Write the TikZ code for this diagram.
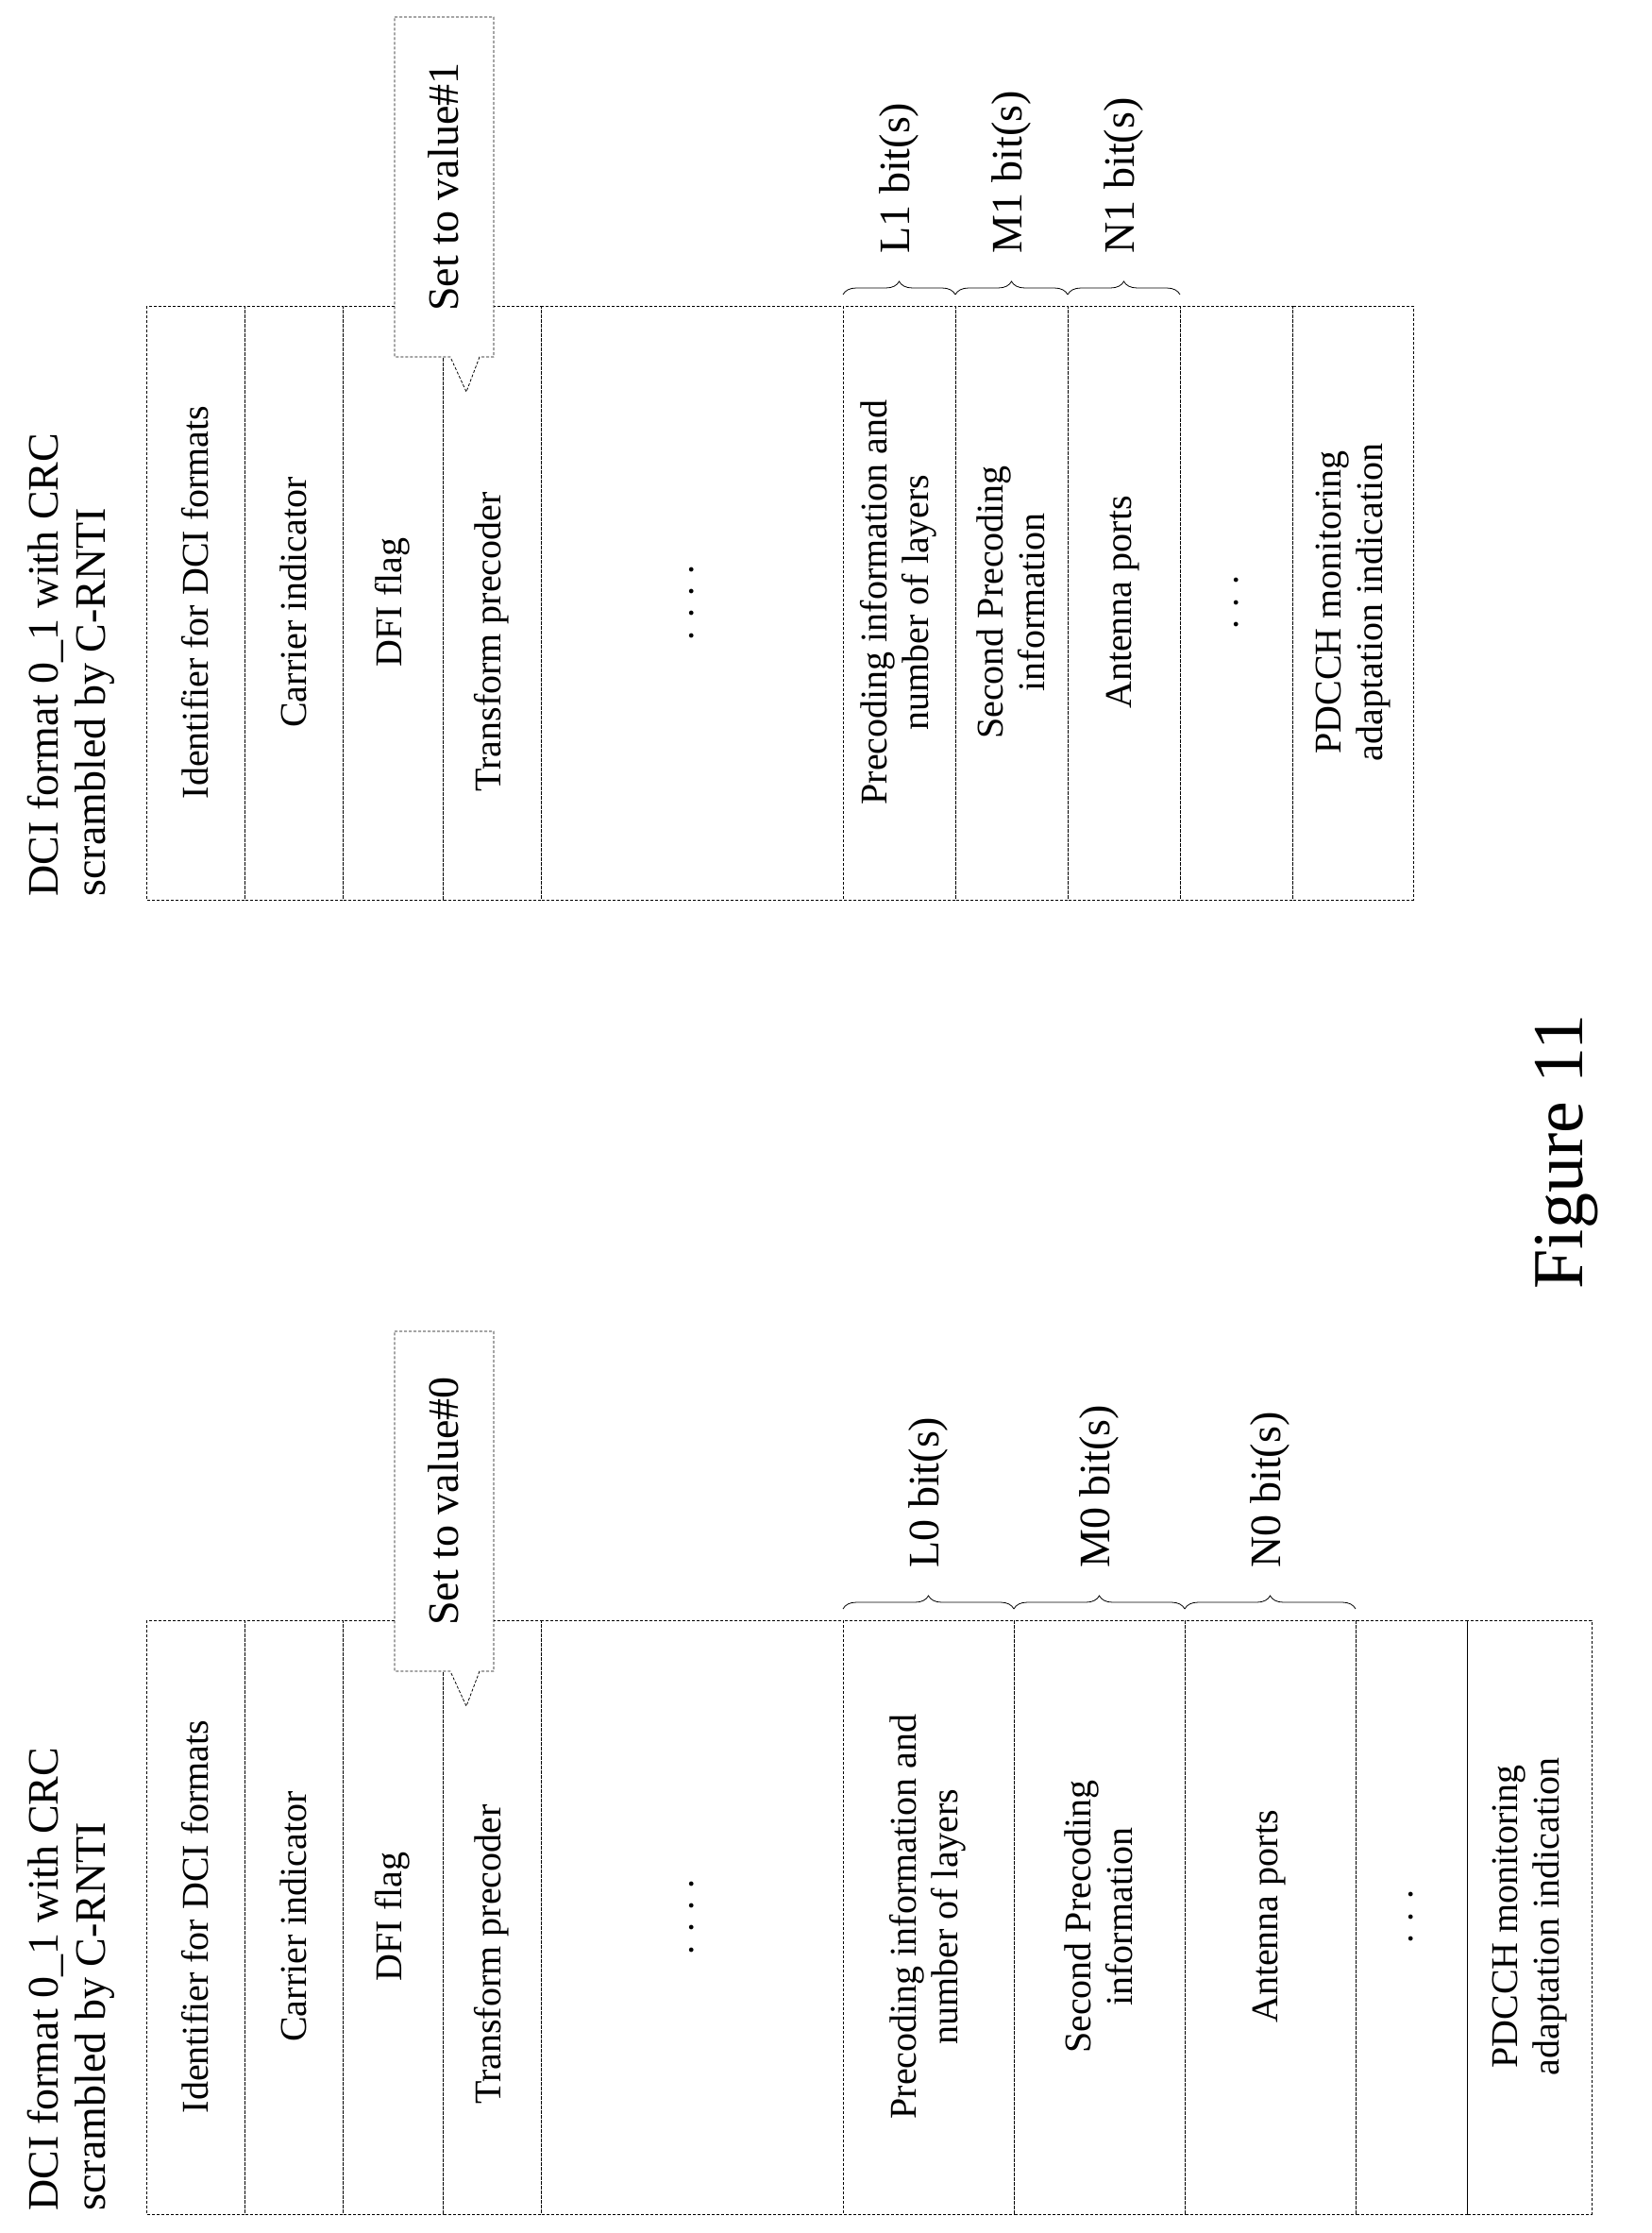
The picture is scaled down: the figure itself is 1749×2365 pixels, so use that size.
\documentclass[tikz,border=0pt]{standalone}
\usepackage{fontspec}
\setmainfont{Liberation Serif}
\usetikzlibrary{decorations.pathreplacing}
\begin{document}
\begin{tikzpicture}[x=1pt,y=-1pt,
  cell/.style={draw,densely dashed,line width=0.8pt},
  lab/.style={rotate=90,font=\fontsize{40}{44}\selectfont,align=center},
  big/.style={rotate=90,font=\fontsize{46}{50}\selectfont},
  brc/.style={decorate,decoration={brace,amplitude=14pt},line width=0.8pt}]
\useasboundingbox (0,0) rectangle (1749,2365);
% ---------- top table ----------
\def\ty{324}\def\tb{953}
\foreach \a/\b [count=\i] in {155/259,259/363,363/469,469/573,573/893,893/1012,1012/1131,1131/1250,1250/1369,1369/1497}{
  \draw[cell] (\a,\ty) rectangle (\b,\tb);}
\node[big,anchor=west,align=left] (t1) at (75,\tb) {DCI format 0\_1 with CRC\\scrambled by C-RNTI};
\node[lab] (a1) at (207,638) {Identifier for DCI formats};
\node[lab] (a2) at (311,638) {Carrier indicator};
\node[lab] (a3) at (416,638) {DFI flag};
\node[lab] (a4) at (521,680) {Transform precoder};
\node[lab] (a5) at (733,638) {. . . .};
\node[lab] (a6) at (952,638) {Precoding information and\\number of layers};
\node[lab] (a7) at (1071,638) {Second Precoding\\information};
\node[lab] (a8) at (1190,638) {Antenna ports};
\node[lab] (a9) at (1310,638) {. . .};
\node[lab] (a10) at (1433,638) {PDCCH monitoring\\adaptation indication};
\draw[brc] (893,312) -- (1012,312);
\draw[brc] (1012,312) -- (1131,312);
\draw[brc] (1131,312) -- (1250,312);
\node[big,anchor=west] (b1) at (952,272) {L1 bit(s)};
\node[big,anchor=west] (b2) at (1071,272) {M1 bit(s)};
\node[big,anchor=west] (b3) at (1190,272) {N1 bit(s)};
\draw[cell,fill=white] (418,18) -- (523,18) -- (523,378) -- (508,378) -- (494,415) -- (477,378) -- (418,378) -- cycle;
\node[big] (c1) at (470,198) {Set to value\#1};
% ---------- bottom table ----------
\def\by{1716}\def\bb{2345}
\foreach \a/\b in {155/259,259/363,363/469,469/573,573/893,893/1074,1074/1255,1255/1436,1436/1554,1554/1686}{
  \draw[cell] (\a,\by) rectangle (\b,\bb);}
\node[big,anchor=west,align=left] (t2) at (75,\bb) {DCI format 0\_1 with CRC\\scrambled by C-RNTI};
\node[lab] (d1) at (207,2030) {Identifier for DCI formats};
\node[lab] (d2) at (311,2030) {Carrier indicator};
\node[lab] (d3) at (416,2030) {DFI flag};
\node[lab] (d4) at (521,2070) {Transform precoder};
\node[lab] (d5) at (733,2030) {. . . .};
\node[lab] (d6) at (983,2030) {Precoding information and\\number of layers};
\node[lab] (d7) at (1164,2030) {Second Precoding\\information};
\node[lab] (d8) at (1345,2030) {Antenna ports};
\node[lab] (d9) at (1495,2030) {. . .};
\node[lab] (d10) at (1620,2030) {PDCCH monitoring\\adaptation indication};
\draw[brc] (893,1704) -- (1074,1704);
\draw[brc] (1074,1704) -- (1255,1704);
\draw[brc] (1255,1704) -- (1436,1704);
\node[big,anchor=west] (e1) at (983,1664) {L0 bit(s)};
\node[big,anchor=west] (e2) at (1164,1664) {M0 bit(s)};
\node[big,anchor=west] (e3) at (1345,1664) {N0 bit(s)};
\draw[cell,fill=white] (418,1410) -- (523,1410) -- (523,1770) -- (508,1770) -- (494,1807) -- (477,1770) -- (418,1770) -- cycle;
\node[big] (f1) at (470,1590) {Set to value\#0};
% ---------- caption ----------
\node[rotate=90,font=\fontsize{76}{80}\selectfont] (fig) at (1660,1220) {Figure 11};
\end{tikzpicture}
\end{document}
